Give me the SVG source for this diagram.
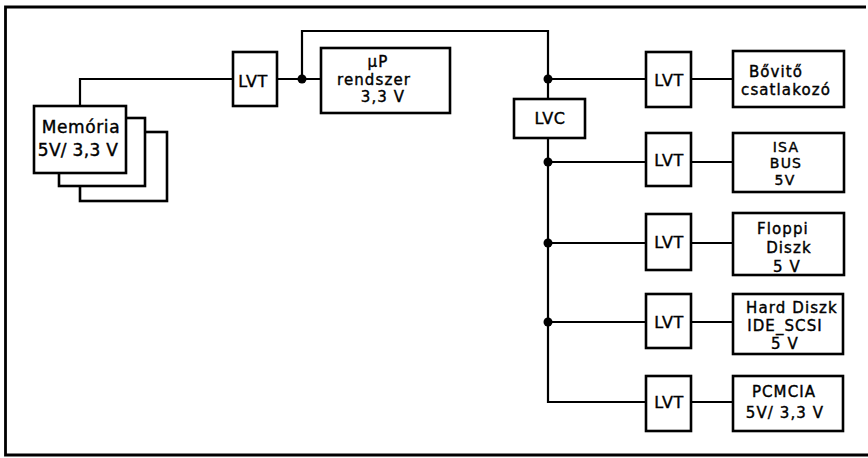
<svg xmlns="http://www.w3.org/2000/svg" width="868" height="458" viewBox="0 0 868 458">
<style>
.box{fill:#fff;stroke:#000;stroke-width:2.6}
.ln{fill:none;stroke:#000;stroke-width:2.2}
.frame{fill:none;stroke:#000;stroke-width:2.8}
.dot{fill:#000}
text{font-family:"DejaVu Sans","Liberation Sans",sans-serif;font-size:17px;fill:#000;stroke:#000;stroke-width:0.4;text-anchor:middle}
.lv{font-size:16px;letter-spacing:0.5px}
.sm{font-size:15px;letter-spacing:1.1px}
.xs{font-size:14px;letter-spacing:1.2px}
</style>
<rect width="868" height="458" fill="#fff"/>
<path class="frame" d="M866,7 H5.5 V455 H868"/>
<g id="connectors">
<path class="ln" d="M80,106 V79 H233"/>
<path class="ln" d="M277,79 H321"/>
<path class="ln" d="M302,79 V31 H548 V99"/>
<path class="ln" d="M548,79 H646"/>
<path class="ln" d="M548,138 V402 H646"/>
<path class="ln" d="M548,162 H646"/>
<path class="ln" d="M548,243 H646"/>
<path class="ln" d="M548,322 H646"/>
<path class="ln" d="M691,79 H733 M691,162 H733 M691,243 H733 M691,322 H733 M691,402 H733"/>
<circle class="dot" cx="302" cy="79" r="4.5"/>
<circle class="dot" cx="548" cy="79" r="4.5"/>
<circle class="dot" cx="548" cy="162" r="4.5"/>
<circle class="dot" cx="548" cy="243" r="4.5"/>
<circle class="dot" cx="548" cy="322" r="4.5"/>
</g>
<g id="memoria">
<rect class="box" x="80" y="132" width="87" height="69"/>
<rect class="box" x="59" y="118" width="86" height="68"/>
<rect class="box" x="34" y="106" width="92" height="67"/>
<text x="81" y="133" letter-spacing="0.6">Memória</text>
<text x="78" y="156" letter-spacing="0.3">5V/ 3,3 V</text>
</g>
<g id="lvt0">
<rect class="box" x="233" y="52" width="44" height="54"/>
<text class="lv" x="253" y="87">LVT</text>
</g>
<g id="up">
<rect class="box" x="321" y="48" width="129" height="65"/>
<text class="sm" x="378" y="67">µP</text>
<text class="sm" x="374" y="85">rendszer</text>
<text class="sm" x="383" y="102">3,3 V</text>
</g>
<g id="lvc">
<rect class="box" x="514" y="99" width="71" height="39"/>
<text class="lv" x="550" y="124">LVC</text>
</g>
<g id="lvt1">
<rect class="box" x="646" y="52" width="45" height="55"/>
<text class="lv" x="669" y="86">LVT</text>
</g>
<g id="lvt2">
<rect class="box" x="646" y="133" width="45" height="53"/>
<text class="lv" x="669" y="166">LVT</text>
</g>
<g id="lvt3">
<rect class="box" x="646" y="214" width="45" height="56"/>
<text class="lv" x="669" y="248">LVT</text>
</g>
<g id="lvt4">
<rect class="box" x="646" y="294" width="45" height="54"/>
<text class="lv" x="669" y="328">LVT</text>
</g>
<g id="lvt5">
<rect class="box" x="646" y="376" width="45" height="55"/>
<text class="lv" x="669" y="408">LVT</text>
</g>
<g id="bovito">
<rect class="box" x="733" y="51" width="111" height="56"/>
<text class="sm" x="776" y="77">Bővitő</text>
<text class="sm" x="786" y="95">csatlakozó</text>
</g>
<g id="isa">
<rect class="box" x="733" y="133" width="111" height="59"/>
<text class="xs" x="786" y="152">ISA</text>
<text class="xs" x="786" y="168">BUS</text>
<text class="xs" x="785" y="185">5V</text>
</g>
<g id="floppi">
<rect class="box" x="733" y="213" width="111" height="62"/>
<text class="sm" x="783" y="234">Floppi</text>
<text class="sm" x="789" y="253">Diszk</text>
<text class="sm" x="787" y="272">5 V</text>
</g>
<g id="hard">
<rect class="box" x="733" y="294" width="110" height="60"/>
<text class="sm" x="792" y="313">Hard Diszk</text>
<text class="sm" x="785" y="331">IDE_SCSI</text>
<text class="sm" x="785" y="349">5 V</text>
</g>
<g id="pcmcia">
<rect class="box" x="733" y="376" width="110" height="55"/>
<text class="sm" x="784" y="397">PCMCIA</text>
<text class="sm" x="785" y="418">5V/ 3,3 V</text>
</g>
</svg>
